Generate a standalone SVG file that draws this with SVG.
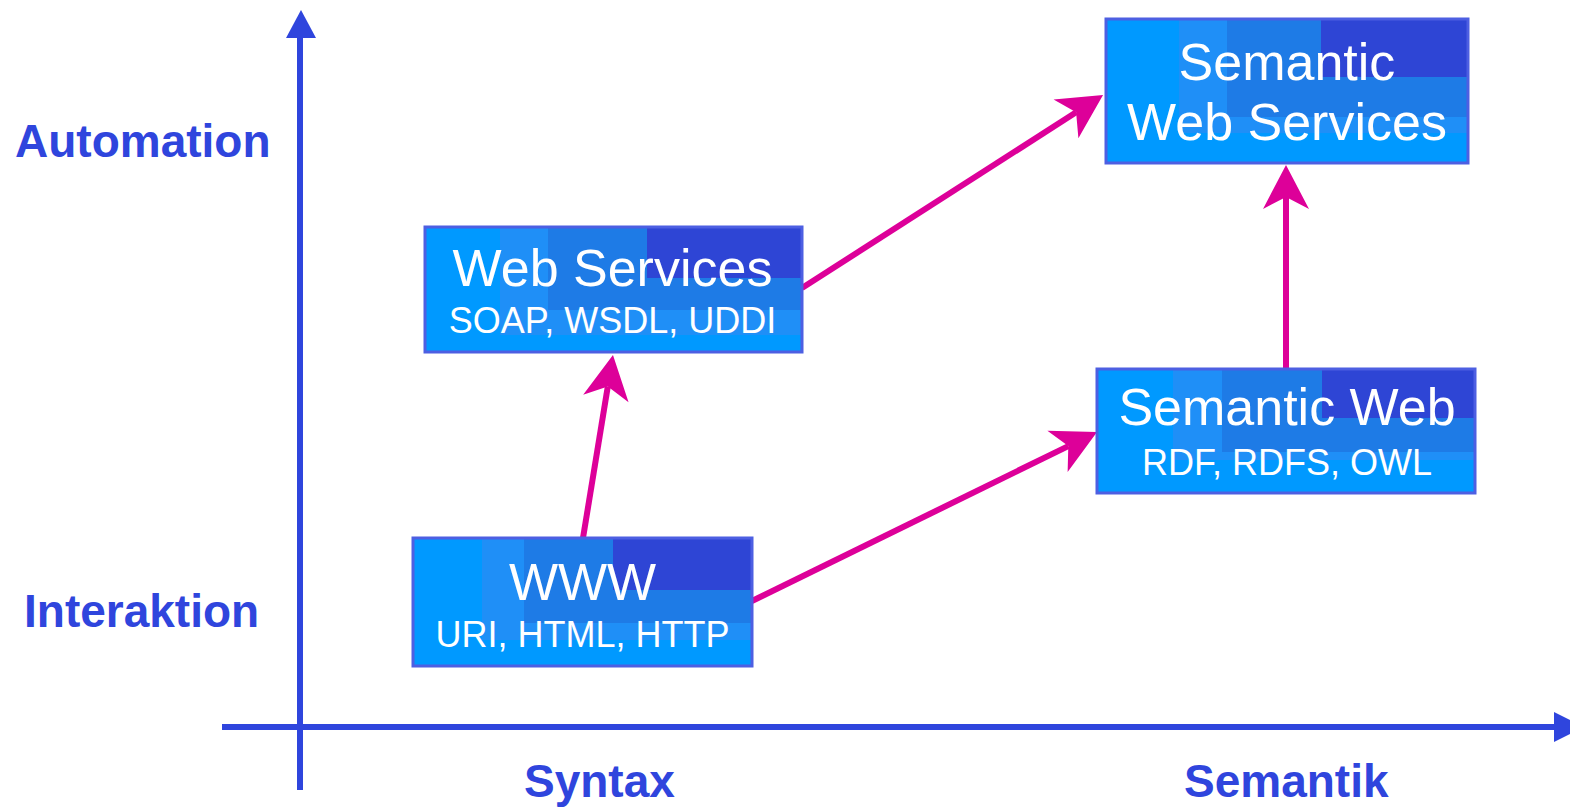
<svg xmlns="http://www.w3.org/2000/svg" width="1570" height="809" viewBox="0 0 1570 809">
  <style>
    .axis { stroke: #2f45dd; stroke-width: 6; fill: none; }
    .axis-head { fill: #2f45dd; }
    .axis-label { font-family: "Liberation Sans", Arial, sans-serif; font-weight: bold; font-size: 46px; fill: #2f45dd; }
    .box-base { fill: #0099ff; }
    .t1 { fill: #1f8ff7; }
    .t2 { fill: #1e7be6; }
    .t3 { fill: #2e45d5; }
    .box-frame { fill: none; stroke: #4d5fe2; stroke-width: 3; }
    .title { font-family: "Liberation Sans", Arial, sans-serif; font-size: 52px; fill: #ffffff; text-anchor: middle; }
    .sub { font-family: "Liberation Sans", Arial, sans-serif; font-size: 36px; fill: #ffffff; text-anchor: middle; }
    .link { stroke: #dd0099; stroke-width: 6; fill: none; marker-end: url(#head); }
  </style>
  <defs>
    <marker id="head" markerUnits="userSpaceOnUse" orient="auto" refX="0" refY="0" markerWidth="60" markerHeight="60" overflow="visible">
      <path d="M-12,-23 L32,0 L-12,23 L0,0 Z" fill="#dd0099"/>
    </marker>
  </defs>

  <rect width="1570" height="809" fill="#ffffff"/>

  <!-- axes -->
  <g id="axes">
    <line class="axis" x1="300" y1="36" x2="300" y2="790"/>
    <polygon class="axis-head" points="301,10 316,38 286,38"/>
    <line class="axis" x1="222" y1="727" x2="1556" y2="727"/>
    <polygon class="axis-head" points="1554,712 1584,727 1554,742"/>
    <text class="axis-label" x="15" y="157">Automation</text>
    <text class="axis-label" x="24" y="627">Interaktion</text>
    <text class="axis-label" x="524" y="797">Syntax</text>
    <text class="axis-label" x="1184" y="797">Semantik</text>
  </g>

  <!-- connectors -->
  <g id="connectors">
    <line class="link" x1="583" y1="538" x2="607.8" y2="386.6"/>
    <line class="link" x1="752" y1="601" x2="1068.3" y2="446.1"/>
    <line class="link" x1="802" y1="288" x2="1076.1" y2="112.3"/>
    <line class="link" x1="1286" y1="369" x2="1286" y2="197"/>
  </g>

  <!-- WWW -->
  <g id="node-www">
    <rect class="box-base" x="413" y="538" width="339" height="128"/>
    <rect class="t1" x="482" y="538" width="270" height="102"/>
    <rect class="t2" x="524" y="538" width="228" height="85"/>
    <rect class="t3" x="613" y="538" width="139" height="52"/>
    <rect class="box-frame" x="413" y="538" width="339" height="128"/>
    <text class="title" x="582.5" y="600">WWW</text>
    <text class="sub" x="582.5" y="647">URI, HTML, HTTP</text>
  </g>

  <!-- Web Services -->
  <g id="node-web-services">
    <rect class="box-base" x="425" y="227" width="377" height="125"/>
    <rect class="t1" x="500" y="227" width="302" height="108"/>
    <rect class="t2" x="548" y="227" width="254" height="83"/>
    <rect class="t3" x="647" y="227" width="155" height="51"/>
    <rect class="box-frame" x="425" y="227" width="377" height="125"/>
    <text class="title" x="612.5" y="286">Web Services</text>
    <text class="sub" x="612.5" y="333" font-size="35.5">SOAP, WSDL, UDDI</text>
  </g>

  <!-- Semantic Web -->
  <g id="node-semantic-web">
    <rect class="box-base" x="1097" y="369" width="378" height="124"/>
    <rect class="t1" x="1173" y="369" width="302" height="91"/>
    <rect class="t2" x="1222" y="369" width="253" height="83"/>
    <rect class="t3" x="1322" y="369" width="153" height="49"/>
    <rect class="box-frame" x="1097" y="369" width="378" height="124"/>
    <text class="title" x="1287" y="425">Semantic Web</text>
    <text class="sub" x="1287" y="475">RDF, RDFS, OWL</text>
  </g>

  <!-- Semantic Web Services -->
  <g id="node-semantic-web-services">
    <rect class="box-base" x="1106" y="19" width="362" height="144"/>
    <rect class="t1" x="1179" y="19" width="289" height="114"/>
    <rect class="t2" x="1227" y="19" width="241" height="98"/>
    <rect class="t3" x="1321" y="19" width="147" height="58"/>
    <rect class="box-frame" x="1106" y="19" width="362" height="144"/>
    <text class="title" x="1287" y="80">Semantic</text>
    <text class="title" x="1287" y="140">Web Services</text>
  </g>
</svg>
